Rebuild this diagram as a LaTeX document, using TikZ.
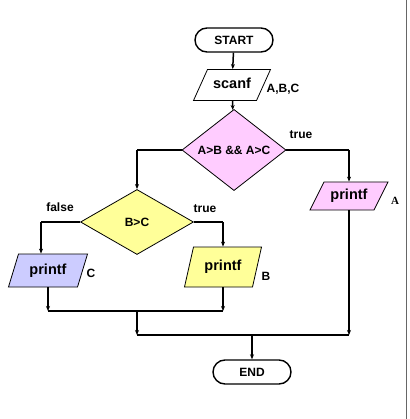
\documentclass[tikz,border=0pt]{standalone}
\usepackage{fontspec}
\setmainfont{Liberation Sans}
\newfontfamily\labelserif{Liberation Serif}
\usepackage[HTML]{xcolor}
\usepackage{tikz}
\usetikzlibrary{positioning, arrows.meta, shapes.geometric}

\definecolor{condpink}{HTML}{FFCCFF}
\definecolor{condyellow}{HTML}{FFFF99}
\definecolor{outblue}{HTML}{CCCCFF}

\begin{document}
\begin{tikzpicture}[x=1pt, y=-1pt,
    every node/.style={font=\bfseries\fontsize{12}{14}\selectfont},
    terminal/.style={draw, line width=1.4pt, rounded corners=12pt, minimum width=78pt, minimum height=24pt, inner sep=0pt},
    iobox/.style={draw, line width=0.8pt, trapezium, text width=38pt, align=center, text height=10.5pt, text depth=3pt, font=\bfseries\fontsize{14.5}{16}\selectfont},
    decision/.style={draw, line width=0.8pt, diamond, inner sep=0pt},
    flow/.style={line width=1.5pt, -{Stealth[length=5pt, width=4pt]}},
    bus/.style={line width=2.8pt}
]
\useasboundingbox (0,0) rectangle (409,419);
\draw[line width=1.5pt, gray!80!black] (406.5,0) -- (406.5,419);

% shapes
\node[terminal] (start) at (234, 40) {START};
\node[iobox, trapezium left angle=65.7, trapezium right angle=114.3, inner xsep=5.5pt, inner ysep=8.75pt] (scanf) at (232, 85) {scanf};
\node[decision, fill=condpink, minimum width=104pt, minimum height=65pt] (cond1) at (234, 150) {A>B \&\& A>C};
\node[decision, fill=condyellow, minimum width=113pt, minimum height=65pt] (cond2) at (137, 222) {B>C};
\node[iobox, fill=outblue, trapezium left angle=73.1, trapezium right angle=106.9, inner xsep=10.5pt, inner ysep=9.75pt] (printC) at (48, 270.5) {printf};
\node[iobox, fill=condyellow, trapezium left angle=77.3, trapezium right angle=102.7, inner xsep=10.5pt, inner ysep=13.25pt] (printB) at (223, 267) {printf};
\node[iobox, fill=condpink, trapezium left angle=63.4, trapezium right angle=116.6, inner xsep=6pt, inner ysep=7.25pt] (printA) at (349, 196) {printf};
\node[terminal] (end) at (252, 372) {END};

% labels
\node (argsIn) at (283, 89) {A,B,C};
\node (true1) at (301, 135) {true};
\node (false2) at (60, 207) {false};
\node (true2) at (205, 209) {true};
\node (argC) at (91, 273) {C};
\node (argB) at (266, 276) {B};
\node[font=\labelserif\bfseries\fontsize{11}{13}\selectfont] (argA) at (395, 201) {A};

\coordinate (join1) at (137, 311);
\coordinate (join2) at (252, 335);

% connectors
\draw[flow] (start) -- (scanf);
\draw[flow] (scanf) -- (cond1);

\draw[bus] (cond1.east) -- (cond1.east -| printA.north);
\draw[flow] (cond1.east -| printA.north) -- (printA.north);
\draw[bus] (cond1.west) -- (cond1.west -| cond2.north);
\draw[flow] (cond1.west -| cond2.north) -- (cond2.north);

\draw[bus] (cond2.west) -- ([xshift=-7pt]cond2.west -| printC.north);
\draw[flow] ([xshift=-7pt]cond2.west -| printC.north) -- ([xshift=-7pt]printC.north);
\draw[bus] (cond2.east) -- (cond2.east -| printB.north);
\draw[flow] (cond2.east -| printB.north) -- (printB.north);

\draw[flow] (printC.south) -- (printC.south |- join1);
\draw[flow] (printB.south) -- (printB.south |- join1);
\draw[bus] (printC.south |- join1) -- (printB.south |- join1);

\draw[flow] (join1) -- (join1 |- join2);
\draw[flow] (printA.south) -- (printA.south |- join2);
\draw[bus] (join1 |- join2) -- (printA.south |- join2);

\draw[flow] (join2) -- (end);

\end{tikzpicture}
\end{document}
